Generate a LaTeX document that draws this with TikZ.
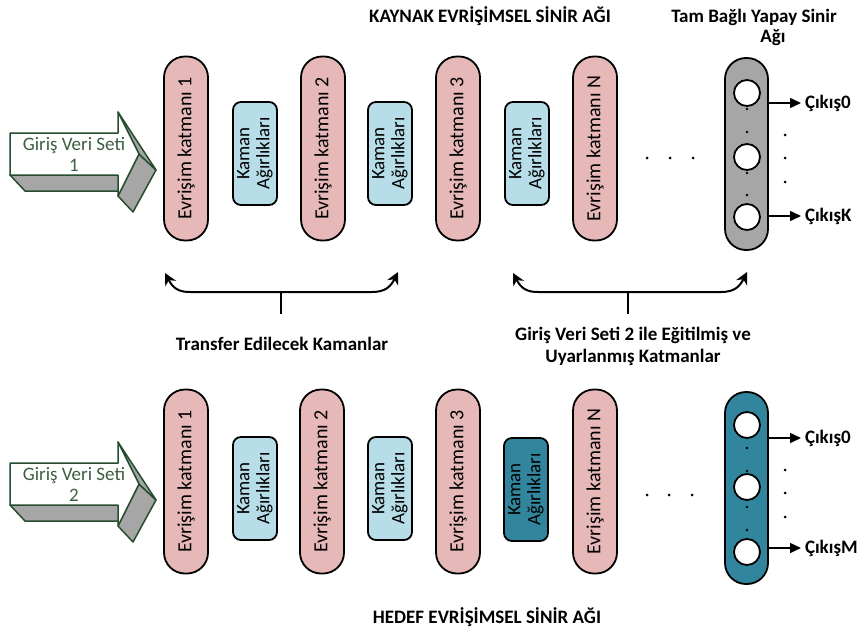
\documentclass[tikz,border=0pt]{standalone}
\usepackage{fontspec}
\setmainfont{Carlito}
\usetikzlibrary{arrows.meta}
\definecolor{pinkf}{HTML}{E6B9B8}
\definecolor{bluef}{HTML}{B7DEE8}
\definecolor{tealf}{HTML}{31859C}
\definecolor{grayf}{HTML}{A6A6A6}
\definecolor{arrgreen}{HTML}{254D2E}
\definecolor{txtgreen}{HTML}{3A5F3F}
\begin{document}
\begin{tikzpicture}[x=1pt,y=-1pt,
  every node/.style={inner sep=0pt, outer sep=0pt},
  layer/.style={draw=black, line width=1.8pt, fill=pinkf, rotate=90, rounded corners=21pt, minimum width=184pt, minimum height=44pt, font=\fontsize{20}{21}\selectfont},
  kaman/.style={draw=black, line width=1.8pt, fill=bluef, rotate=90, rounded corners=8pt, minimum width=103pt, minimum height=44pt, align=center, font=\fontsize{19}{20}\selectfont},
  fcpill/.style={draw=black, line width=1.8pt, rounded corners=21pt, minimum width=43pt, minimum height=192pt},
  neuron/.style={circle, draw=black, line width=1.8pt, fill=white, minimum size=26pt},
  smalldot/.style={circle, fill=black, minimum size=2.6pt},
  bigdot/.style={circle, fill=black, minimum size=3pt},
  lbl/.style={font=\bfseries\fontsize{19}{22}\selectfont, align=center},
  outlbl/.style={font=\bfseries\fontsize{19}{22}\selectfont, anchor=west},
  outarr/.style={line width=1.5pt, shorten >=4pt, -{Triangle[length=11pt,width=10pt]}},
  brace/.style={line width=2pt, {Stealth[length=12pt,width=12pt]}-{Stealth[length=12pt,width=12pt]}},
  stem/.style={line width=2pt},
  face/.style={draw=arrgreen, line width=1.5pt, line join=round},
  intxt/.style={font=\fontsize{19}{21}\selectfont, text=txtgreen, align=center},
]
\useasboundingbox (0,0) rectangle (860,632);

% ---------- titles ----------
\node[lbl] (t1) at (490,16) {KAYNAK EVRİŞİMSEL SİNİR AĞI};
\node[lbl] (t2a) at (754,17) {Tam Bağlı Yapay Sinir};
\node[lbl] (t2b) at (773,38) {Ağı};
\node[lbl] (t3) at (487,617) {HEDEF EVRİŞİMSEL SİNİR AĞI};

% ---------- input arrows (3D) ----------
\foreach \dy/\num in {0/1, 330/2}{
  \begin{scope}[yshift=-\dy pt]
    \path[face, fill=grayf] (10,175) -- (118,175) -- (133,191) -- (25,191) -- cycle;
    \path[face, fill=grayf] (139,154) -- (118,196) -- (133,212) -- (156,170) -- cycle;
    \path[face, fill=grayf] (118,112) -- (139,154) -- (156,170) -- cycle;
    \path[face, fill=white] (10,133) -- (118,133) -- (118,112) -- (139,154) -- (118,196) -- (118,175) -- (10,175) -- cycle;
    \node[intxt] (in\num) at (74,154) {Giriş Veri Seti\\\num};
  \end{scope}
}

% ---------- top row ----------
\node[layer] (a1) at (186,148.5) {Evrişim katmanı 1};
\node[kaman] (ak1) at (255,153.5) {Kaman\\Ağırlıkları};
\node[layer] (a2) at (323,148.5) {Evrişim katmanı 2};
\node[kaman] (ak2) at (390,153.5) {Kaman\\Ağırlıkları};
\node[layer] (a3) at (458,148.5) {Evrişim katmanı 3};
\node[kaman] (ak3) at (527,153.5) {Kaman\\Ağırlıkları};
\node[layer] (aN) at (595,148.5) {Evrişim katmanı N};
\node[bigdot] (ad1) at (647,158) {};
\node[bigdot] (ad2) at (670,158) {};
\node[bigdot] (ad3) at (693,158) {};

\node[fcpill, fill=grayf] (ap) at (746.5,154) {};
\node[neuron] (an1) at (747,93) {};
\node[neuron] (an2) at (747,157) {};
\node[neuron] (an3) at (747,217) {};
\foreach \y [count=\i] in {109,132,173,195}{\node[smalldot] (ads\i) at (747,\y) {};}
\coordinate (as0) at (768,103);
\coordinate (asK) at (768,216);
\node[outlbl] (ao0) at (805,103) {Çıkış0};
\node[outlbl] (aoK) at (805,216) {ÇıkışK};
\draw[outarr] (as0) -- (ao0.west);
\draw[outarr] (asK) -- (aoK.west);
\foreach \y [count=\i] in {135,158,182}{\node[bigdot] (avd\i) at (785,\y) {};}

% ---------- braces ----------
\coordinate (b1l) at (165,273);
\coordinate (b1r) at (398,272);
\coordinate (b1m) at (281,292);
\coordinate (b1s) at (281,314);
\draw[brace] (b1l) .. controls (173,288) and (178,292) .. (190,292) -- (372,292) .. controls (386,292) and (391,286) .. (b1r);
\draw[stem] (b1m) -- (b1s);
\node[lbl] (bt1) at (282,344) {Transfer Edilecek Kamanlar};

\coordinate (b2l) at (513,273);
\coordinate (b2r) at (747,272);
\coordinate (b2m) at (628,292);
\coordinate (b2s) at (628,314);
\draw[brace] (b2l) .. controls (521,288) and (526,292) .. (538,292) -- (721,292) .. controls (735,292) and (740,286) .. (b2r);
\draw[stem] (b2m) -- (b2s);
\node[lbl] (bt2) at (633,346) {Giriş Veri Seti 2 ile Eğitilmiş ve\\Uyarlanmış Katmanlar};

% ---------- bottom row ----------
\node[layer] (c1) at (186,481.5) {Evrişim katmanı 1};
\node[kaman] (ck1) at (255,488.5) {Kaman\\Ağırlıkları};
\node[layer] (c2) at (322,481.5) {Evrişim katmanı 2};
\node[kaman] (ck2) at (390,488.5) {Kaman\\Ağırlıkları};
\node[layer] (c3) at (458,481.5) {Evrişim katmanı 3};
\node[kaman, fill=tealf] (ck3) at (526,489.5) {Kaman\\Ağırlıkları};
\node[layer] (cN) at (595,481.5) {Evrişim katmanı N};
\node[bigdot] (cd1) at (647,495) {};
\node[bigdot] (cd2) at (669,495) {};
\node[bigdot] (cd3) at (692,495) {};

\node[fcpill, fill=tealf] (cp) at (746.5,488) {};
\node[neuron] (cn1) at (747,425) {};
\node[neuron] (cn2) at (747,487) {};
\node[neuron] (cn3) at (747,552) {};
\foreach \y [count=\i] in {448,471,507,530}{\node[smalldot] (cds\i) at (747,\y) {};}
\coordinate (cs0) at (768,438);
\coordinate (csM) at (768,548);
\node[outlbl] (co0) at (805,438) {Çıkış0};
\node[outlbl] (coM) at (805,548) {ÇıkışM};
\draw[outarr] (cs0) -- (co0.west);
\draw[outarr] (csM) -- (coM.west);
\foreach \y [count=\i] in {470,493,517}{\node[bigdot] (cvd\i) at (785,\y) {};}
\end{tikzpicture}
\end{document}
